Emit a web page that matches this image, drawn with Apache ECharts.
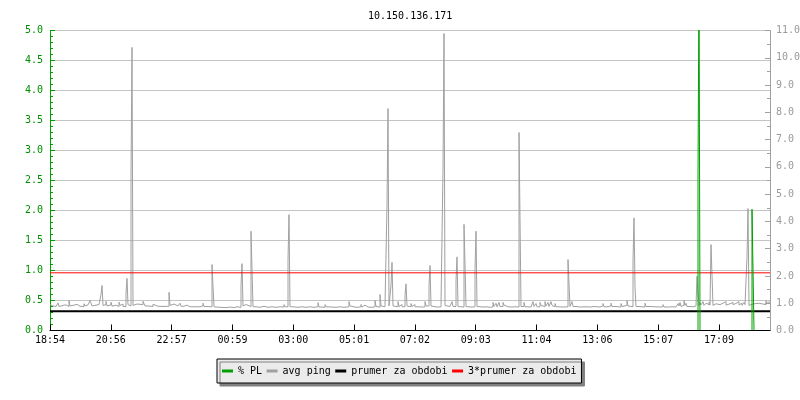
<!DOCTYPE html>
<html>
<head>
<meta charset="utf-8">
<script src="https://cdn.jsdelivr.net/npm/echarts@6/dist/echarts.min.js"></script>
<style>html,body{margin:0;padding:0;background:#fff;}#c{width:800px;height:400px;}</style>
</head>
<body>
<div id="c"></div>
<script>
// ---- data ----
const titleText = '10.150.136.171';
const xLabels = ['18:54','20:56','22:57','00:59','03:00','05:01','07:02','09:03','11:04','13:06','15:07','17:09'];
const xTickStep = 60.82;   // samples between labelled ticks (1 sample ~ 2 min)
const xMax = 720;          // number of samples across the plot
const leftTicks = [0, 5, 0.5];   // % PL axis: min, max, step
const rightTicks = [0, 11, 1];   // ms axis: min, max, step
const seriesNames = ['% PL', 'avg ping', 'prumer za obdobi', '3*prumer za obdobi'];

// packet loss [sample, %] (held until next sample)
const plData = [[0,0],[648,2.52],[649,6],[650,0],[702,2.02],[703,1.02],[704,0],[720,0]];

// average ping [sample, ms] (held until next sample)
const pingData = [
[0,0.95],[1,0.99],[2,0.90],[3,0.95],[5,0.88],[6,0.92],[8,1.01],[9,0.88],[11,0.92],[13,0.87],[15,0.94],[16,0.88],[19,1.10],[20,0.90],[22,0.93],[24,0.87],[26,0.96],[27,0.89],[30,0.95],[31,0.88],[34,0.98],[35,0.90],[37,0.94],[38,0.88],[40,1.10],[41,1.04],[42,0.90],[44,0.93],[46,0.88],[48,0.95],[49,0.89],
[51,1.32],[52,1.65],[53,0.92],
[55,0.95],[56,1.07],[57,0.90],[59,0.94],[61,1.04],[62,0.89],[64,0.93],[66,0.88],[69,1.04],[70,0.92],[72,0.97],[73,0.88],
[76,1.38],[77,1.91],[78,0.95],[79,0.90],
[81,5.65],[82,10.38],[83,0.92],
[85,0.97],[87,0.90],[89,0.95],[93,1.07],[94,1.00],[95,0.90],[98,0.94],[100,0.88],[103,0.96],[105,0.89],[108,0.93],[110,0.88],[113,0.95],[115,0.89],
[119,1.40],[120,0.92],
[122,0.97],[124,1.02],[125,0.90],[128,0.95],[130,1.00],[131,0.89],[134,0.93],[137,0.87],[140,0.92],[142,0.87],[146,0.93],[147,0.87],[150,0.90],[153,1.00],[154,0.88],[157,0.92],[159,0.87],
[162,2.42],[163,1.62],[164,0.87],
[166,0.85],[170,0.87],[172,0.84],[176,0.86],[180,0.84],[184,0.87],[187,0.85],
[191,1.66],[192,2.45],[193,0.90],[194,0.95],[196,0.90],[197,0.97],[198,0.88],
[201,3.64],[202,2.24],[203,0.87],
[206,0.85],[210,0.86],[212,0.89],[214,0.85],[218,0.87],[222,0.85],[226,0.87],[230,0.86],
[234,0.95],[235,0.87],
[238,2.58],[239,4.25],[240,0.87],
[243,0.85],[248,0.87],[252,0.85],[256,0.87],[260,0.85],[264,0.87],
[268,1.02],[269,0.86],[272,0.85],[275,0.95],[276,0.87],[277,0.92],[278,0.86],[282,0.85],[286,0.87],[290,0.85],[294,0.87],
[299,1.06],[300,0.90],[301,0.86],[305,0.85],[308,0.87],[311,0.95],[312,0.86],[314,0.93],[315,0.86],[318,0.85],[322,0.87],
[325,1.10],[326,0.88],[328,0.86],
[330,1.32],[331,0.90],[333,0.87],[335,0.95],[336,0.88],
[337,4.59],[338,8.14],[339,0.90],
[341,1.66],[342,2.50],[343,0.90],[345,0.87],[348,1.06],[349,0.88],[351,0.95],[352,0.87],
[355,1.28],[356,1.71],[357,0.90],[359,0.87],[361,0.99],[362,0.88],[364,0.95],[365,0.87],[368,0.86],[372,0.87],
[375,1.06],[376,0.90],
[379,1.62],[380,2.38],[381,0.90],[383,0.86],[387,0.87],[391,0.95],[392,0.90],
[393,5.87],[394,10.89],[395,0.92],[396,0.95],[397,0.88],[400,0.86],
[402,1.06],[403,0.88],
[406,1.81],[407,2.70],[408,0.88],[410,0.86],
[414,3.89],[415,2.42],[416,0.88],[418,0.86],[421,0.87],
[425,2.24],[426,3.64],[427,0.88],[429,0.86],[433,0.87],[437,0.85],[440,0.87],
[443,1.03],[444,0.88],[446,1.00],[447,0.87],[449,1.03],[450,0.88],[453,1.03],[454,0.93],[455,0.87],[458,0.86],[462,0.87],[465,0.86],
[469,7.26],[470,4.07],[471,0.88],[474,1.03],[475,0.87],[478,0.86],[481,0.87],
[483,1.06],[484,0.88],[486,0.99],[487,0.87],[490,1.03],[491,0.92],[492,0.87],[495,1.06],[496,0.90],[498,1.03],[499,0.88],[501,1.06],[502,0.92],[503,0.87],[505,0.99],[506,0.87],[509,0.86],[513,0.87],
[518,2.60],[519,1.72],[520,0.88],[522,1.06],[523,0.88],[526,0.86],[530,0.87],[536,0.90],[537,0.86],[541,0.88],[544,0.86],
[550,0.90],[553,0.99],[554,0.87],[558,0.90],[561,1.00],[562,0.88],[566,0.93],[567,0.86],[571,0.99],[572,0.88],[574,0.92],[577,1.10],[578,0.90],[580,0.87],
[583,2.54],[584,4.13],[585,1.57],[586,0.88],[589,0.86],[595,1.00],[596,0.88],[600,0.95],[601,0.87],[605,0.86],[610,0.87],[613,0.95],[614,0.86],[618,0.87],[622,0.86],
[626,0.92],[628,0.99],[629,0.90],[630,1.03],[631,0.88],[632,0.93],[634,1.10],[635,0.92],[636,1.00],[637,0.88],[640,0.87],[643,0.90],
[646,0.95],[647,1.99],[648,1.44],[649,0.92],
[650,1.02],[651,0.94],[653,1.06],[654,0.92],[656,1.00],[657,0.95],[659,1.04],[660,0.93],
[661,3.15],[662,2.02],[663,0.92],
[664,0.98],[666,0.92],[667,1.03],[668,0.95],[670,0.92],[672,1.00],[673,0.94],[675,1.06],[676,0.93],[678,0.98],[680,0.92],[682,1.03],[683,0.95],[685,0.99],[686,0.92],[688,1.06],[689,0.94],[691,1.00],[692,0.92],[694,1.03],[695,0.95],
[697,2.69],[698,4.47],[699,0.92],
[701,0.97],[703,0.92],[705,0.99],[706,0.94],[708,1.00],[709,0.93],[711,0.97],[713,1.03],[714,0.95],[716,1.10],[717,1.00],[718,1.06],[720,1.06]
];

// period average of ping (ms)
const prumer = 0.705;

// ---- chart ----
const FONT = "'DejaVu Sans Mono', monospace";
const chart = echarts.init(document.getElementById('c'), null, {renderer: 'canvas'});
const tickLabel = v => {
  const i = Math.round(v / xTickStep);
  if (Math.abs(v - i * xTickStep) > 0.5) return '';
  return xLabels[i] || '';
};
chart.setOption({
  animation: false,
  backgroundColor: '#ffffff',
  title: {
    text: titleText, left: 363, top: 6,
    textStyle: {fontFamily: FONT, fontSize: 10, fontWeight: 'normal', color: '#000'}
  },
  legend: {
    data: seriesNames,
    left: 217, top: 359,
    icon: 'rect', itemWidth: 11, itemHeight: 3, itemGap: 4.5,
    padding: [7, 5],
    backgroundColor: '#ebebeb', borderColor: '#000', borderWidth: 1,
    shadowColor: '#808080', shadowBlur: 0, shadowOffsetX: 3, shadowOffsetY: 3,
    textStyle: {fontFamily: FONT, fontSize: 10, color: '#000'},
    selectedMode: false
  },
  grid: {left: 50, right: 30, top: 30.5, bottom: 69.5, containLabel: false, outerBoundsMode: 'none'},
  xAxis: {
    type: 'value', min: 0, max: xMax, interval: xTickStep, z: 5,
    axisLine: {show: true, lineStyle: {color: '#000', width: 1}},
    axisTick: {show: true, inside: true, length: 6, lineStyle: {color: '#000'}},
    axisLabel: {formatter: tickLabel, fontFamily: FONT, fontSize: 10, color: '#000', margin: 5, showMaxLabel: false},
    splitLine: {show: false}
  },
  yAxis: [{
    type: 'value', position: 'left', min: leftTicks[0], max: leftTicks[1], interval: leftTicks[2],
    axisLine: {show: true, lineStyle: {color: '#00a000', width: 1}},
    axisTick: {show: true, inside: true, length: 5, lineStyle: {color: '#00a000'}},
    minorTick: {show: true, splitNumber: 5, length: 3, lineStyle: {color: '#00a000'}},
    axisLabel: {formatter: v => v.toFixed(1), fontFamily: FONT, fontSize: 10, color: '#009000', margin: 7},
    splitLine: {show: true, lineStyle: {color: '#c4c4c4', width: 1}}
  }, {
    type: 'value', position: 'right', min: rightTicks[0], max: rightTicks[1], interval: rightTicks[2],
    axisLine: {show: true, lineStyle: {color: '#a0a0a0', width: 1}},
    axisTick: {show: true, inside: true, length: 5, lineStyle: {color: '#a0a0a0'}},
    minorTick: {show: true, splitNumber: 2, length: 3, lineStyle: {color: '#a0a0a0'}},
    axisLabel: {formatter: v => v.toFixed(1), fontFamily: FONT, fontSize: 10, color: '#9a9a9a', margin: 6},
    splitLine: {show: false}
  }],
  series: [{
    name: seriesNames[2], type: 'line', yAxisIndex: 1, color: '#000',
    data: [[0, prumer], [xMax, prumer]], showSymbol: false, silent: true,
    lineStyle: {color: '#000', width: 2}, z: 2
  }, {
    name: seriesNames[1], type: 'line', yAxisIndex: 1, color: '#a0a0a0', step: 'end',
    data: pingData, showSymbol: false, silent: true,
    lineStyle: {color: '#a0a0a0', width: 1}, z: 3
  }, {
    name: seriesNames[3], type: 'line', yAxisIndex: 1, color: '#ff0000',
    data: [[0, 3 * prumer], [xMax, 3 * prumer]], showSymbol: false, silent: true,
    lineStyle: {color: '#ff0000', width: 1}, z: 4
  }, {
    name: seriesNames[0], type: 'line', yAxisIndex: 0, color: '#00a000', step: 'end',
    data: plData, showSymbol: false, silent: true, clip: true,
    lineStyle: {color: '#00a000', width: 1}, z: 4
  }]
});
</script>
</body>
</html>
